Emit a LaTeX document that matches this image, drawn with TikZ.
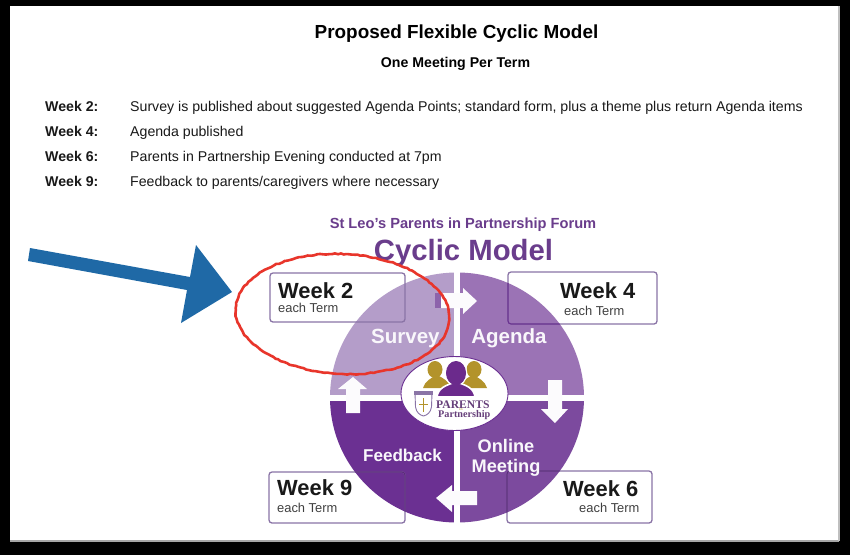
\documentclass[tikz,border=0pt]{standalone}
\usepackage{fontspec}
\setmainfont{Liberation Sans}
\newfontfamily\serifface{Liberation Serif}
\usetikzlibrary{decorations.pathmorphing}
\definecolor{qa}{HTML}{B49DC9}
\definecolor{qb}{HTML}{9B73B5}
\definecolor{qc}{HTML}{7C4A9E}
\definecolor{qd}{HTML}{6B3092}
\definecolor{boxline}{HTML}{8A74A6}
\definecolor{titlepurple}{HTML}{6A3D8C}
\definecolor{bluearrow}{HTML}{1F69A6}
\definecolor{goldp}{HTML}{B3932B}
\definecolor{purplep}{HTML}{6B2A8C}
\definecolor{redring}{HTML}{E8352B}
\tikzset{
 x=1pt,y=-1pt,
 txt/.style={inner sep=0,anchor=base west,font=\fontsize{14.15}{16}\selectfont,text=black!90},
 wk/.style={txt,font=\fontsize{14.15}{16}\selectfont\bfseries},
 weekbox/.style={inner sep=0,anchor=base west,font=\fontsize{21.9}{24}\selectfont\bfseries,text=black!90},
 termlab/.style={inner sep=0,anchor=base west,font=\fontsize{12.9}{14}\selectfont,text=black!75},
 quadlab/.style={inner sep=0,font=\fontsize{20.5}{22}\selectfont\bfseries,text=white!92!qa,align=center},
 blockarrow/.style={fill=white!96!qa,draw=none},
}
\begin{document}
\begin{tikzpicture}
\useasboundingbox (0,0) rectangle (850,555);
\fill[black] (0,0) rectangle (850,555);
\fill[white] (10,6) rectangle (839,541);
\fill[black!35] (10,540) rectangle (839,541.5);
\fill[black!25] (838,6) rectangle (839.5,541);
% heading
\node[inner sep=0,font=\fontsize{18.9}{20}\selectfont\bfseries] (title) at (456.5,34) {Proposed Flexible Cyclic Model};
\node[inner sep=0,font=\fontsize{14.15}{16}\selectfont\bfseries] (sub) at (455.5,64) {One Meeting Per Term};
\node[wk] (w2) at (45,111) {Week 2:};
\node[txt] (t2) at (130,111) {Survey is published about suggested Agenda Points; standard form, plus a theme plus return Agenda items};
\node[wk] (w4) at (45,136) {Week 4:};
\node[txt] (t4) at (130,136) {Agenda published};
\node[wk] (w6) at (45,161) {Week 6:};
\node[txt] (t6) at (130,161) {Parents in Partnership Evening conducted at 7pm};
\node[wk] (w9) at (45,186) {Week 9:};
\node[txt] (t9) at (130,186) {Feedback to parents/caregivers where necessary};
\node[inner sep=0,font=\fontsize{14.65}{16}\selectfont\bfseries,text=titlepurple] (forum) at (463,225) {St Leo’s Parents in Partnership Forum};
\node[inner sep=0,font=\fontsize{29.3}{31}\selectfont\bfseries,text=titlepurple] (cyc) at (463.5,253) {Cyclic Model};
% box fills and outlines
\foreach \a/\b/\c/\d in {270/273/405/322,508/272/657/324,507/471/652/523,269/472/405/523}{
 \fill[white,rounded corners=3] (\a,\b) rectangle (\c,\d);
}
% quadrants
\begin{scope}
\clip (457,397.5) ellipse[x radius=127,y radius=125];
\fill[qa] (320,260) rectangle (453.5,394.5);
\fill[qb] (459.5,260) rectangle (600,394.5);
\fill[qc] (459.5,400.5) rectangle (600,530);
\fill[qd] (320,400.5) rectangle (453.5,530);
\end{scope}
\foreach \a/\b/\c/\d in {270/273/405/322,508/272/657/324,507/471/652/523,269/472/405/523}{
 \draw[boxline,line width=1.3,rounded corners=3] (\a,\b) rectangle (\c,\d);
}
\begin{scope}
\clip (457,397.5) ellipse[x radius=127,y radius=125];
\draw[qd!85!black,line width=1.1,rounded corners=3] (269,472) rectangle (405,523);
\draw[qd!85!black,line width=1.1,rounded corners=3] (507,471) rectangle (652,523);
\draw[qd,line width=1.1,rounded corners=3] (508,272) rectangle (657,324);
\end{scope}
\node[weekbox] (l2) at (278,298) {Week 2};
\node[termlab] (e2) at (278,312) {each Term};
\node[weekbox] (l4) at (560,298) {Week 4};
\node[termlab] (e4) at (564,315) {each Term};
\node[weekbox] (l6) at (563,496) {Week 6};
\node[termlab] (e6) at (579,512) {each Term};
\node[weekbox] (l9) at (277,495) {Week 9};
\node[termlab] (e9) at (277,512) {each Term};
\node[quadlab,anchor=base west] (qs) at (371,343) {Survey};
\node[quadlab,anchor=base] (qg) at (509,343) {Agenda};
\node[quadlab,anchor=base,font=\fontsize{18.2}{19.5}\selectfont\bfseries] (qo) at (506,472) {Online\\Meeting};
\node[quadlab,anchor=base,font=\fontsize{17.1}{18}\selectfont\bfseries] (qf) at (402.5,461) {Feedback};
% block arrows
\fill[blockarrow] (441,293)--(463,293)--(463,288)--(477,301)--(463,314)--(463,308)--(441,308)--cycle;
\fill[qc!70!qa] (435,293) rectangle (441,308);
\fill[blockarrow] (548,380)--(562,380)--(562,409)--(568,409)--(555,423)--(541,409)--(548,409)--cycle;
\fill[blockarrow] (477,491)--(452,491)--(452,485)--(436,498)--(452,512)--(452,505)--(477,505)--cycle;
\fill[blockarrow] (346,413)--(346,389)--(338,389)--(353,377)--(367,389)--(360,389)--(360,413)--cycle;
% logo
\fill[white] (454.5,393.5) ellipse[x radius=53.5,y radius=37];
\draw[qd,line width=.9] (454.5,393.5) ellipse[x radius=53.5,y radius=37];
\foreach \cx/\hx in {437/435,473/474}{
 \fill[goldp] (\hx,369.5) ellipse[x radius=7.5,y radius=8.5];
 \fill[goldp] (\cx-14,388) .. controls (\cx-12,381) and (\cx-6,378) .. (\cx,375) .. controls (\cx+6,378) and (\cx+12,381) .. (\cx+14,388) -- cycle;
}
\draw[white,line width=1.6,fill=purplep] (456,373) ellipse[x radius=10.5,y radius=12.5];
\draw[white,line width=1.6,fill=purplep] (437,397) .. controls (438,388) and (446,385) .. (456,382) .. controls (466,385) and (474,388) .. (475,397) -- cycle;
\fill[purplep] (456,373) ellipse[x radius=10,y radius=12];
\draw[boxline,line width=.9,fill=white] (415,393)--(432,393)--(431.5,407) .. controls (430.5,413) and (427,415) .. (423.5,416) .. controls (420,415) and (416.5,413) .. (415.5,407) -- cycle;
\fill[boxline] (414,391) rectangle (433,395);
\draw[goldp,line width=1.1] (423.5,398)--(423.5,412) (419,404.5)--(428,404.5);
\node[inner sep=0,anchor=base west,font=\serifface\fontsize{11.6}{13}\selectfont\bfseries,text=purplep!70!black!85] (pa) at (436,408) {PARENTS};
\node[inner sep=0,anchor=base west,font=\serifface\fontsize{10.2}{12}\selectfont\bfseries,text=purplep!70!black!85] (pb) at (438,417.5) {Partnership};
\node[inner sep=0,font=\serifface\fontsize{4}{5}\selectfont,text=goldp] (pin) at (461,409) {in};
% hand-drawn red ring
\draw[redring,line width=2.6,decorate,decoration={random steps,segment length=3,amplitude=.5},rotate around={-3:(342.5,314)}] (342.5,314) ellipse[x radius=107,y radius=60];
% blue arrow
\fill[bluearrow] (30,248) -- (190,277) -- (196,245) -- (232,292) -- (181,323) -- (187,290) -- (28,261) -- cycle;
\end{tikzpicture}
\end{document}
